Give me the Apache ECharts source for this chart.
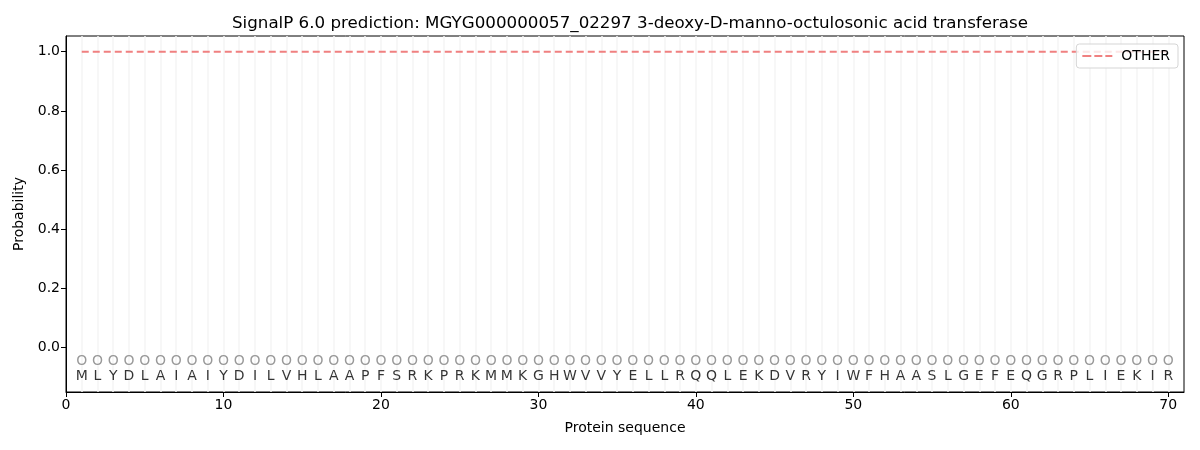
<!DOCTYPE html>
<html>
<head>
    <meta charset="utf-8">
    <title></title>
    <script src="https://cdn.jsdelivr.net/npm/echarts@6/dist/echarts.min.js"></script>
    <style>
        body { margin: 0; background: #fff; }
    </style>
</head>
<body>
<div id="main" style="width: 1200px;height:450px;"></div>
<script type="text/javascript">
// residue sequence, one letter per position 1..70
var residues = 'MLYDLAIAIYDILVHLAAPFSRKPRKMMKGHWVVYELLRQQLEKDVRYIWFHAASLGEFEQGRPLIEKIR'.split('');
var positions = residues.map(function (r, i) { return i + 1; });
// predicted label per position (all "O" = other)
var predLabels = residues.map(function () { return 'O'; });
// probability of OTHER at every position
var otherProb = [
    1, 1, 1, 1, 1, 1, 1, 1, 1, 1,
    1, 1, 1, 1, 1, 1, 1, 1, 1, 1,
    1, 1, 1, 1, 1, 1, 1, 1, 1, 1,
    1, 1, 1, 1, 1, 1, 1, 1, 1, 1,
    1, 1, 1, 1, 1, 1, 1, 1, 1, 1,
    1, 1, 1, 1, 1, 1, 1, 1, 1, 1,
    1, 1, 1, 1, 1, 1, 1, 1, 1, 1
];
var xTicks = [0, 10, 20, 30, 40, 50, 60, 70];
var yTicks = [0, 0.2, 0.4, 0.6, 0.8, 1.0];

var font = 'DejaVu Sans';
var myChart = echarts.init(document.getElementById('main'));

var otherData = positions.map(function (p, i) { return [p, otherProb[i]]; });
var markData = positions.map(function (p, i) { return [p, -0.048, predLabels[i]]; });
var aaData = positions.map(function (p, i) { return [p, -0.097, residues[i]]; });

myChart.setOption({
    animation: false,
    textStyle: { fontFamily: font },
    title: {
        text: 'SignalP 6.0 prediction: MGYG000000057_02297 3-deoxy-D-manno-octulosonic acid transferase',
        left: 625,
        textAlign: 'center',
        top: 10,
        textStyle: { fontFamily: font, fontSize: 16.7, fontWeight: 'normal', color: '#000' }
    },
    legend: {
        right: 22,
        top: 44,
        orient: 'vertical',
        data: [{ name: 'OTHER', icon: 'path://M0,0h9v2h-9z M12,0h8v2h-8z M23,0h7v2h-7z' }],
        itemWidth: 30,
        itemHeight: 2,
        itemGap: 6,
        padding: [5, 8, 5, 6],
        backgroundColor: 'rgba(255,255,255,0.8)',
        borderColor: '#d5d5d5',
        borderWidth: 1,
        borderRadius: 3,
        textStyle: { fontFamily: font, fontSize: 14, color: '#000', padding: [0, 0, 0, 4] }
    },
    grid: {
        left: 66, right: 16, top: 36, bottom: 58,
        show: true, borderColor: '#000', borderWidth: 1
    },
    xAxis: {
        type: 'value',
        min: 0, max: 71,
        name: 'Protein sequence',
        nameLocation: 'middle',
        nameGap: 29,
        nameTextStyle: { fontFamily: font, fontSize: 14, color: '#000' },
        axisLine: { onZero: false, lineStyle: { color: '#000' } },
        axisTick: { customValues: xTicks, length: 5, lineStyle: { color: '#000' } },
        axisLabel: { customValues: xTicks, fontFamily: font, fontSize: 14, color: '#000', margin: 6 },
        splitLine: { show: false }
    },
    yAxis: {
        type: 'value',
        min: -0.15, max: 1.053,
        name: 'Probability',
        nameLocation: 'middle',
        nameGap: 37,
        nameTextStyle: { fontFamily: font, fontSize: 14, color: '#000' },
        axisLine: { show: true, onZero: false, lineStyle: { color: '#000' } },
        axisTick: { show: true, customValues: yTicks, length: 5, lineStyle: { color: '#000' } },
        axisLabel: {
            customValues: yTicks, fontFamily: font, fontSize: 14, color: '#000', margin: 6,
            formatter: function (v) { return v.toFixed(1); }
        },
        splitLine: { show: false }
    },
    series: [
        {
            name: 'guides',
            type: 'line',
            data: [],
            silent: true,
            z: 0,
            markLine: {
                silent: true,
                symbol: 'none',
                z: 0,
                label: { show: false },
                lineStyle: { color: '#f4f4f4', width: 1.5, type: 'solid', opacity: 1 },
                data: positions.map(function (p) { return { xAxis: p }; })
            }
        },
        {
            name: 'OTHER',
            type: 'line',
            data: otherData,
            symbol: 'none',
            showSymbol: false,
            lineStyle: { color: '#f08080', width: 2, type: [7, 4] },
            itemStyle: { color: '#f08080' },
            z: 3
        },
        {
            name: 'pred',
            type: 'scatter',
            data: markData,
            symbolSize: 0,
            silent: true,
            z: 5,
            label: {
                show: true, position: 'inside',
                formatter: function (p) { return p.data[2]; },
                fontFamily: font, fontSize: 14, color: '#7f7f7f'
            }
        },
        {
            name: 'aa',
            type: 'scatter',
            data: aaData,
            symbolSize: 0,
            silent: true,
            z: 5,
            label: {
                show: true, position: 'inside',
                formatter: function (p) { return p.data[2]; },
                fontFamily: font, fontSize: 14, color: '#000'
            }
        }
    ]
});
</script>
</body>
</html>
